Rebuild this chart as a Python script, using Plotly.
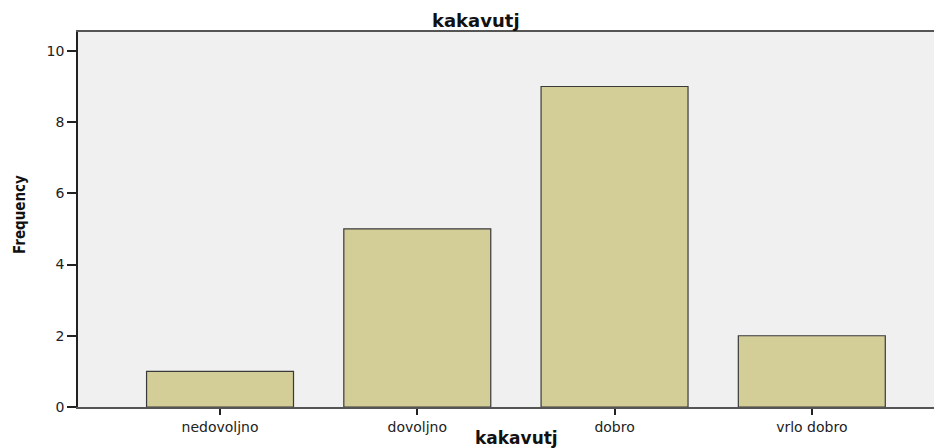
import plotly.graph_objects as go

categories = ["nedovoljno", "dovoljno", "dobro", "vrlo dobro"]
frequency = [1, 5, 9, 2]
y_ticks = [0, 2, 4, 6, 8, 10]
title_text = "kakavutj"
x_title = "kakavutj"
y_title = "Frequency"

positions = list(range(len(categories)))

fig = go.Figure()
fig.add_trace(go.Bar(
    x=positions, y=frequency, width=0.745,
    marker=dict(color="#D3CD98", line=dict(color="#3a3a3a", width=1.2)),
    hoverinfo="skip",
))

# page body has an 8px margin, so the figure is offset by 8px right and down
fig.update_layout(
    width=934, height=440,
    margin=dict(l=70, r=0, t=24, b=41),
    paper_bgcolor="white", plot_bgcolor="#F0F0F0",
    showlegend=False,
    font=dict(family="DejaVu Sans", size=14, color="#222"),
    xaxis=dict(
        range=[-0.72, 3.66], tickmode="array", tickvals=positions, ticktext=categories,
        showgrid=False, zeroline=False, showline=True, linecolor="#555", linewidth=1.5,
        mirror=True, ticks="outside", ticklen=6, tickcolor="#222", tickwidth=1.5,
        tickfont=dict(size=14, color="#222"),
    ),
    yaxis=dict(
        range=[0, 10.53], tickmode="array", tickvals=y_ticks,
        showgrid=False, zeroline=False, showline=True, linecolor="#222", linewidth=1.5,
        ticks="outside", ticklen=9, tickcolor="#222", tickwidth=1.5,
        tickfont=dict(size=14, color="#222"),
    ),
    annotations=[
        dict(text="<b>" + title_text + "</b>", xref="paper", yref="paper", x=0.461, y=1,
             yshift=12, showarrow=False, font=dict(size=18, color="#111"),
             xanchor="center", yanchor="middle"),
        dict(text="<b>" + x_title + "</b>", xref="paper", yref="paper", x=0.507, y=0,
             yshift=-31, showarrow=False, font=dict(size=17, color="#111"),
             xanchor="center", yanchor="middle"),
        dict(text="<b>" + y_title + "</b>", xref="paper", yref="paper", x=0, y=0.512,
             xshift=-58, showarrow=False, textangle=-90,
             font=dict(family="DejaVu Sans Condensed, Liberation Sans Narrow, Liberation Sans",
                       size=15, color="#111"),
             xanchor="center", yanchor="middle"),
    ],
)

fig.write_html("out.html")
